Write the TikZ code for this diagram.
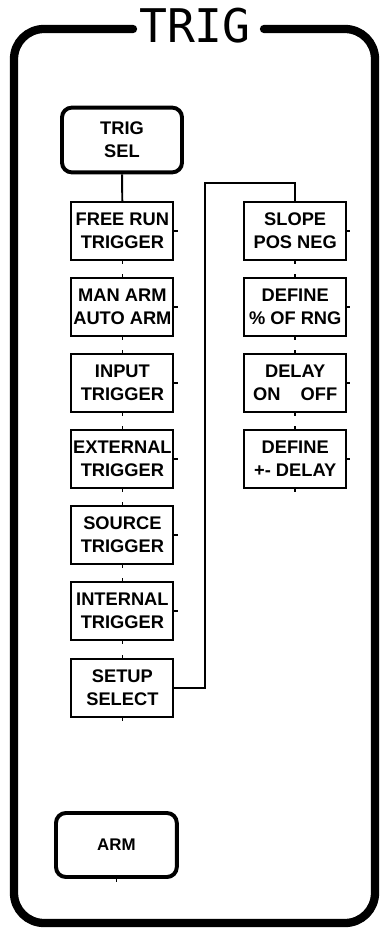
\documentclass[tikz,border=0pt]{standalone}
\usepackage{fontspec}
\setsansfont{Liberation Sans}
\newfontfamily\plotmono{DejaVu Sans Mono}
\usetikzlibrary{positioning}

\begin{document}
\begin{tikzpicture}[
  font=\sffamily\bfseries,
  key/.style={draw, line width=1.4pt, minimum width=2.55cm, minimum height=1.45cm,
    inner sep=0pt, align=center, font=\sffamily\bfseries\fontsize{13}{16.3}\selectfont},
  softkey/.style={draw, line width=2.8pt, rounded corners=7pt, minimum width=3.0cm,
    minimum height=1.62cm, inner sep=0pt, align=center,
    font=\sffamily\bfseries\fontsize{13}{16.5}\selectfont},
  frame/.style={line width=5.9pt, rounded corners=0.75cm, line cap=round},
  link/.style={line width=1.4pt},
  stub/.style={line width=1.1pt}
]
\useasboundingbox (0,0) rectangle (9.575,-23.25);

% outer panel with title in the gap
\node[font=\plotmono\fontsize{33}{33}\selectfont, inner sep=0pt] (title) at (4.875,-0.64) {TRIG};
\coordinate (gapL) at (3.325,-0.725);
\coordinate (gapR) at (6.6,-0.725);
\draw[frame] (gapL) -- (0.35,-0.725) -- (0.35,-23.075) -- (9.375,-23.075)
  -- (9.375,-0.725) -- (gapR);

\node[softkey] (trigsel) at (3.05,-3.5) {TRIG\\SEL};

\node[key] (freerun) at (3.06,-5.775) {FREE RUN\\TRIGGER};
\node[key] (manarm) at (3.06,-7.675) {MAN ARM\\AUTO ARM};
\node[key] (input) at (3.06,-9.575) {INPUT\\TRIGGER};
\node[key] (external) at (3.06,-11.475) {EXTERNAL\\TRIGGER};
\node[key] (source) at (3.06,-13.375) {SOURCE\\TRIGGER};
\node[key] (internal) at (3.06,-15.275) {INTERNAL\\TRIGGER};
\node[key] (setup) at (3.06,-17.2) {SETUP\\SELECT};

\node[key] (slope) at (7.38,-5.775) {SLOPE\\POS NEG};
\node[key] (pctrng) at (7.38,-7.675) {DEFINE\\\% OF RNG};
\node[key] (delay) at (7.38,-9.575) {DELAY\\ON\hspace{1.1em}OFF};
\node[key] (pmdelay) at (7.38,-11.475) {DEFINE\\+- DELAY};

\node[softkey, minimum width=3.02cm, minimum height=1.6cm,
  font=\sffamily\bfseries\fontsize{12}{14}\selectfont] (arm) at (2.91,-21.125) {ARM};

\draw[link] (trigsel) -- (freerun);
\coordinate (bend) at (5.125,-4.575);
\draw[link] (setup.east) -| (bend) -| (slope.north);

% small contact marks on the keys
\foreach \k in {freerun,manarm,input,external,source,internal,setup,slope,pctrng,delay,pmdelay}{
  \draw[stub] (\k.north) -- ++(0,0.08);
  \draw[stub] (\k.south) -- ++(0,-0.08);
  \draw[stub] (\k.east) -- ++(0.08,0);
}
\draw[stub] (arm.south) -- ++(0,-0.08);

\end{tikzpicture}
\end{document}
